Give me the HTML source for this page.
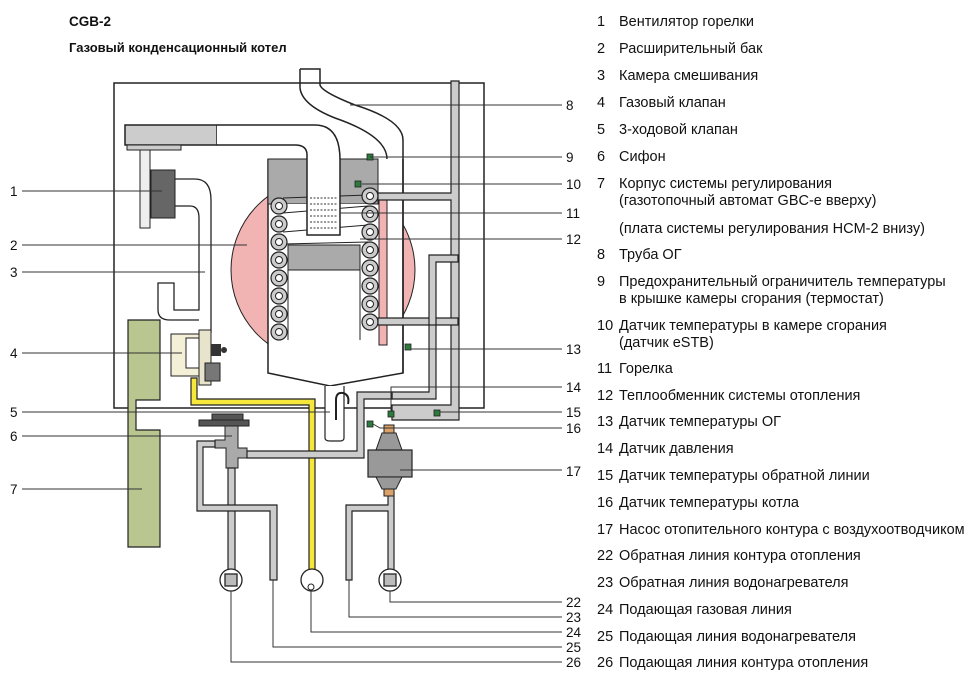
<!DOCTYPE html>
<html><head><meta charset="utf-8"><style>
html,body{margin:0;padding:0;background:#fff;}
svg{display:block;}
text{font-family:"Liberation Sans",Arial,sans-serif;fill:#111;}
.t{font-size:14.5px;}
.n{font-size:13.5px;}
</style></head><body>
<svg width="980" height="684" viewBox="0 0 980 684" xmlns="http://www.w3.org/2000/svg">
<defs>
<clipPath id="cl"><rect x="0" y="0" width="268" height="684"/><rect x="403" y="0" width="200" height="684"/></clipPath>
</defs>
<text x="69" y="26" font-size="13.5" font-weight="bold">CGB-2</text>
<text x="69" y="52" font-size="13" font-weight="bold">Газовый конденсационный котел</text>

<!-- housing -->
<rect x="114" y="83" width="370" height="325" fill="none" stroke="#222" stroke-width="1.5"/>

<!-- expansion tank (pink) -->
<circle cx="323" cy="270" r="92" fill="#f2b3b3" stroke="#222" stroke-width="1" clip-path="url(#cl)"/>

<!-- chamber -->
<path d="M268 159 V373 L330 386 L403 373 V159" fill="#fff" stroke="#222" stroke-width="1.5"/>
<rect x="268" y="159" width="110" height="45" fill="#aaa" stroke="#222" stroke-width="1"/>
<rect x="288" y="245" width="72" height="25" fill="#aaa" stroke="#222" stroke-width="1"/>
<rect x="278" y="204" width="90" height="40" fill="#fff"/>
<rect x="379" y="200" width="8" height="145" fill="#f2b3b3" stroke="#222" stroke-width="1"/>
<line x1="288" y1="245" x2="288" y2="340" stroke="#222"/>
<line x1="360" y1="270" x2="360" y2="340" stroke="#222"/>
<g stroke="#222" stroke-width="1">
<line x1="283" y1="198" x2="368" y2="195"/><line x1="283" y1="213" x2="368" y2="206"/>
<line x1="283" y1="232" x2="368" y2="225"/><line x1="283" y1="244" x2="368" y2="242"/>
</g>

<!-- flue pipe -->
<path d="M300 69 H320 V85 Q322 92 355 105 Q403 120 403 140 V373" fill="none" stroke="#222" stroke-width="1.5"/>
<path d="M300 69 V88 Q302 105 335 118 Q387 136 387 159" fill="none" stroke="#222" stroke-width="1.5"/>

<!-- air pipe -->
<rect x="125" y="125" width="92" height="20" fill="#ccc" stroke="#222" stroke-width="1.5"/>
<rect x="127" y="145" width="54" height="5" fill="#ccc" stroke="#222" stroke-width="1"/>
<path d="M217 125 H315 Q340 125 340 160 V235 H307 V155 Q307 145 295 145 H217" fill="#fff" stroke="#222" stroke-width="1.5"/>
<g stroke="#333" stroke-width="1" stroke-dasharray="2,1.5">
<line x1="310" y1="198" x2="338" y2="198"/><line x1="310" y1="204" x2="338" y2="204"/>
<line x1="310" y1="210" x2="338" y2="210"/><line x1="310" y1="216" x2="338" y2="216"/>
<line x1="310" y1="222" x2="338" y2="222"/><line x1="310" y1="228" x2="338" y2="228"/>
</g>
<!-- fan -->
<rect x="140" y="150" width="10" height="78" fill="#eee" stroke="#222" stroke-width="1"/>
<rect x="151" y="170" width="24" height="48" fill="#666" stroke="#222" stroke-width="1"/>
<path d="M175 179 H195 Q211 179 211 200 V333 M175 206 H190 Q199 206 199 218 V310 H174 V283 H158 V310 Q158 320 170 320 H199" fill="none" stroke="#222" stroke-width="1.3"/>

<!-- coils -->
<g fill="#ccc" stroke="#222" stroke-width="1.2">
<circle cx="279" cy="206" r="8"/><circle cx="279" cy="224" r="8"/><circle cx="279" cy="242" r="8"/><circle cx="279" cy="260" r="8"/>
<circle cx="279" cy="278" r="8"/><circle cx="279" cy="296" r="8"/><circle cx="279" cy="314" r="8"/><circle cx="279" cy="332" r="8"/>
<circle cx="370" cy="196" r="8"/><circle cx="370" cy="214" r="8"/><circle cx="370" cy="232" r="8"/><circle cx="370" cy="250" r="8"/>
<circle cx="370" cy="268" r="8"/><circle cx="370" cy="286" r="8"/><circle cx="370" cy="304" r="8"/><circle cx="370" cy="322" r="8"/>
</g>
<g fill="#fff" stroke="#222" stroke-width="1">
<circle cx="279" cy="206" r="3.5"/><circle cx="279" cy="224" r="3.5"/><circle cx="279" cy="242" r="3.5"/><circle cx="279" cy="260" r="3.5"/>
<circle cx="279" cy="278" r="3.5"/><circle cx="279" cy="296" r="3.5"/><circle cx="279" cy="314" r="3.5"/><circle cx="279" cy="332" r="3.5"/>
<circle cx="370" cy="196" r="3.5"/><circle cx="370" cy="214" r="3.5"/><circle cx="370" cy="232" r="3.5"/><circle cx="370" cy="250" r="3.5"/>
<circle cx="370" cy="268" r="3.5"/><circle cx="370" cy="286" r="3.5"/><circle cx="370" cy="304" r="3.5"/><circle cx="370" cy="322" r="3.5"/>
</g>

<!-- right water pipes -->
<g fill="#ccc" stroke="#222" stroke-width="1.2">
<path d="M451 81 H459 V420 H392 V405 H451 V200 H378 V193 H451 Z"/>
<path d="M378 318 H458 V325 H436 V399 H392 V392 H429 V325 H378 Z"/>
<path d="M429 255 H458 V262 H436 V325 H429 Z"/>
</g>

<!-- olive block -->
<path d="M128 320 H160 V400 H136 V430 H160 V547 H128 Z" fill="#b9c690" stroke="#222" stroke-width="1.2"/>

<!-- gas valve -->
<rect x="171" y="334" width="28" height="42" fill="#f4f0d8" stroke="#222"/>
<rect x="186" y="338" width="14" height="30" fill="#fff" stroke="#222"/>
<rect x="199" y="330" width="12" height="55" fill="#e8e4cc" stroke="#222"/>
<rect x="205" y="363" width="15" height="18" fill="#777" stroke="#222"/>
<rect x="211" y="344" width="10" height="12" fill="#333"/>
<circle cx="224" cy="350" r="3" fill="#333"/>

<!-- gas pipe yellow -->
<path d="M191 378 V405 H309 V570 H315 V399 H197 V378 Z" fill="#f5e73c" stroke="#222" stroke-width="1.2"/>
<circle cx="312" cy="580" r="11" fill="#fff" stroke="#222" stroke-width="1.3"/>
<circle cx="311" cy="587" r="3" fill="#fff" stroke="#222"/>

<!-- siphon -->
<path d="M325 386 V438 Q325 441 330 441 H340 Q344 441 344 438 V386" fill="#fff" stroke="#222" stroke-width="1.2"/>
<path d="M336 420 V400 Q336 392 343 393 Q350 395 348 404" fill="none" stroke="#222" stroke-width="2"/>

<!-- sensors -->
<g fill="#2d7a3d" stroke="#222" stroke-width="0.8">
<rect x="367" y="154" width="6" height="6"/><rect x="355" y="181" width="6" height="6"/>
<rect x="405" y="344" width="6" height="6"/><rect x="388" y="411" width="6" height="6"/>
<rect x="434" y="410" width="6" height="6"/><rect x="367" y="421" width="6" height="6"/>
</g>

<!-- 3-way valve -->
<rect x="212" y="414" width="31" height="7" fill="#555" stroke="#222"/>
<rect x="199" y="420" width="50" height="6" fill="#555" stroke="#222"/>
<path d="M225 426 H238 V448 H247 V458 H238 V468 H226 V448 H215 V440 H225 Z" fill="#aaa" stroke="#222"/>
<g fill="#ccc" stroke="#222" stroke-width="1.2">
<path d="M247 451 H357 V392 H392 V399 H364 V458 H247 Z"/>
<path d="M228 468 H235 V570 H228 Z"/>
<path d="M197 441 H215 V447 H203 V505 H277 V580 H270 V511 H197 Z"/>
<path d="M346 505 H388 V492 H394 V570 H388 V511 H352 V580 H346 Z"/>
</g>

<!-- pump -->
<rect x="384" y="425" width="10" height="8" fill="#d9a26a" stroke="#222"/>
<path d="M382 433 H396 L402 450 H376 Z" fill="#999" stroke="#222"/>
<rect x="368" y="450" width="44" height="27" fill="#999" stroke="#222" stroke-width="1.2"/>
<path d="M376 477 H402 L396 489 H382 Z" fill="#999" stroke="#222"/>
<rect x="384" y="489" width="10" height="7" fill="#d9a26a" stroke="#222"/>

<!-- bottom connectors -->
<g stroke="#222" stroke-width="1.3">
<circle cx="231" cy="580" r="11" fill="#fff"/><circle cx="390" cy="580" r="11" fill="#fff"/>
<rect x="225" y="574" width="12" height="12" fill="#bbb"/><rect x="384" y="574" width="12" height="12" fill="#bbb"/>
</g>

<!-- leader lines -->
<g stroke="#333" stroke-width="1" fill="none">
<path d="M22 191 H162"/><path d="M22 245 H247"/><path d="M22 272 H205"/>
<path d="M22 353 H182"/><path d="M22 412 H330"/><path d="M22 436 H232"/><path d="M22 489 H142"/>
<path d="M350 105 H562"/><path d="M370 157 H562"/><path d="M362 184 H562"/>
<path d="M340 213 H562"/><path d="M360 239 H562"/><path d="M411 349 H562"/>
<path d="M391 411 V387 H562"/><path d="M440 412 H562"/><path d="M373 424 L380 428 H562"/>
<path d="M400 470 H562"/>
<path d="M390 591 V602 H562"/><path d="M349 580 V617 H562"/><path d="M311 591 V632 H562"/>
<path d="M273 580 V647 H562"/><path d="M231 591 V662 H562"/>
</g>

<g class="n">
<text x="10" y="196">1</text><text x="10" y="250">2</text><text x="10" y="277">3</text>
<text x="10" y="358">4</text><text x="10" y="417">5</text><text x="10" y="441">6</text><text x="10" y="494">7</text>
<text x="566" y="110">8</text><text x="566" y="162">9</text><text x="566" y="189">10</text>
<text x="566" y="218">11</text><text x="566" y="244">12</text><text x="566" y="354">13</text>
<text x="566" y="392">14</text><text x="566" y="417">15</text><text x="566" y="433">16</text>
<text x="566" y="476">17</text><text x="566" y="607">22</text><text x="566" y="622">23</text>
<text x="566" y="637">24</text><text x="566" y="652">25</text><text x="566" y="667">26</text>
</g>

<g class="t">
<text x="597" y="26">1</text><text x="619" y="26">Вентилятор горелки</text>
<text x="597" y="53">2</text><text x="619" y="53">Расширительный бак</text>
<text x="597" y="80">3</text><text x="619" y="80">Камера смешивания</text>
<text x="597" y="107">4</text><text x="619" y="107">Газовый клапан</text>
<text x="597" y="134">5</text><text x="619" y="134">3-ходовой клапан</text>
<text x="597" y="161">6</text><text x="619" y="161">Сифон</text>
<text x="597" y="188">7</text><text x="619" y="188">Корпус системы регулирования</text>
<text x="619" y="205">(газотопочный автомат GBC-e вверху)</text>
<text x="619" y="233">(плата системы регулирования HCM-2 внизу)</text>
<text x="597" y="259">8</text><text x="619" y="259">Труба ОГ</text>
<text x="597" y="286">9</text><text x="619" y="286">Предохранительный ограничитель температуры</text>
<text x="619" y="303">в крышке камеры сгорания (термостат)</text>
<text x="597" y="330">10</text><text x="619" y="330">Датчик температуры в камере сгорания</text>
<text x="619" y="347">(датчик eSTB)</text>
<text x="597" y="373">11</text><text x="619" y="373">Горелка</text>
<text x="597" y="400">12</text><text x="619" y="400">Теплообменник системы отопления</text>
<text x="597" y="426">13</text><text x="619" y="426">Датчик температуры ОГ</text>
<text x="597" y="453">14</text><text x="619" y="453">Датчик давления</text>
<text x="597" y="480">15</text><text x="619" y="480">Датчик температуры обратной линии</text>
<text x="597" y="507">16</text><text x="619" y="507">Датчик температуры котла</text>
<text x="597" y="534">17</text><text x="619" y="534">Насос отопительного контура с воздухоотводчиком</text>
<text x="597" y="560">22</text><text x="619" y="560">Обратная линия контура отопления</text>
<text x="597" y="587">23</text><text x="619" y="587">Обратная линия водонагревателя</text>
<text x="597" y="614">24</text><text x="619" y="614">Подающая газовая линия</text>
<text x="597" y="641">25</text><text x="619" y="641">Подающая линия водонагревателя</text>
<text x="597" y="667">26</text><text x="619" y="667">Подающая линия контура отопления</text>
</g>
</svg>
</body></html>
